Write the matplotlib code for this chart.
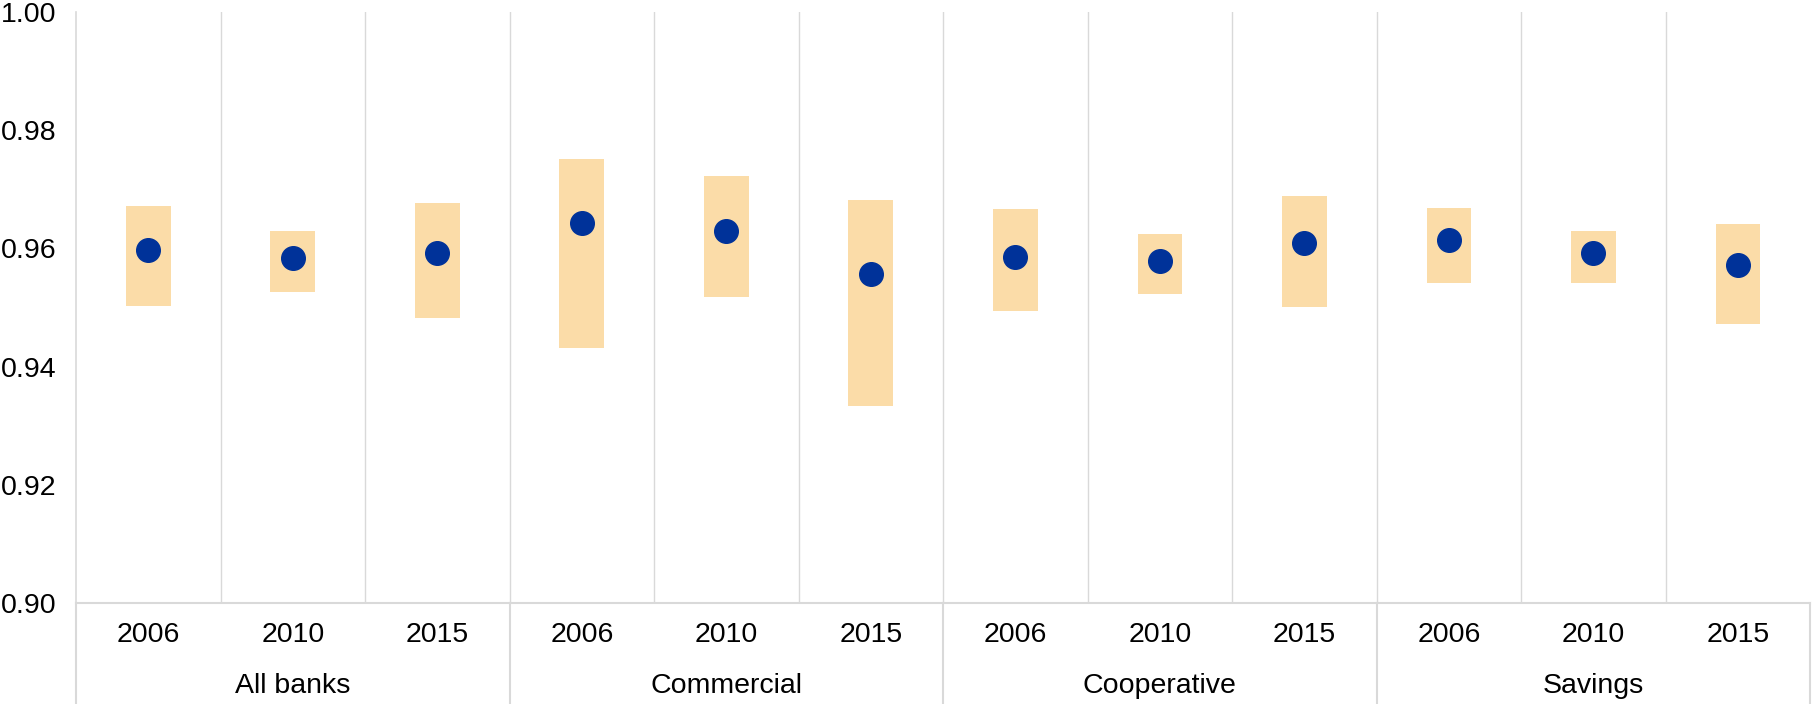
import matplotlib.pyplot as plt
import numpy as np
from matplotlib.lines import Line2D
import matplotlib.transforms as mtransforms

plt.rcParams['font.family'] = ['Liberation Sans', 'DejaVu Sans']

groups = ['All banks', 'Commercial', 'Cooperative', 'Savings']
years = ['2006', '2010', '2015']

# range (low/high) and point estimate per group, per year
high = [0.9671, 0.9630, 0.9677,
        0.9752, 0.9722, 0.9682,
        0.9667, 0.9625, 0.9688,
        0.9669, 0.9630, 0.9642]
low = [0.9503, 0.9526, 0.9483,
       0.9432, 0.9518, 0.9333,
       0.9494, 0.9522, 0.9501,
       0.9541, 0.9541, 0.9472]
mid = [0.9597, 0.9583, 0.9593,
       0.9643, 0.9629, 0.9557,
       0.9585, 0.9578, 0.9609,
       0.9614, 0.9592, 0.9572]

box_color = '#FBDCA8'
dot_color = '#003299'
grid_color = '#D9D9D9'

fig = plt.figure(figsize=(18.12, 7.04), dpi=100)
ax = fig.add_axes([0.042, 0.1435, 0.957, 0.8395])

n = len(mid)
x = np.arange(n)
ax.bar(x, np.array(high) - np.array(low), bottom=low, width=0.31,
       color=box_color, zorder=2)
ax.plot(x, mid, 'o', color=dot_color, markersize=17, zorder=3)

ax.set_xlim(-0.5, n - 0.5)
ax.set_ylim(0.90, 1.00)
ax.set_yticks(np.arange(0.90, 1.001, 0.02))
ax.set_yticklabels(['%.2f' % v for v in np.arange(0.90, 1.001, 0.02)])
ax.tick_params(axis='both', length=0, labelsize=20.5)
ax.tick_params(axis='y', pad=14)
ax.set_xticks(x)
ax.set_xticklabels(years * len(groups))
ax.tick_params(axis='x', pad=14)

for s in ['top', 'right']:
    ax.spines[s].set_visible(False)
ax.spines['left'].set_color(grid_color)
ax.spines['bottom'].set_color(grid_color)
ax.spines['left'].set_linewidth(1.2)
ax.spines['bottom'].set_linewidth(1.5)

# vertical separators between categories
for b in np.arange(0.5, n - 0.5, 1.0):
    ax.axvline(b, color=grid_color, linewidth=1, zorder=1)

# group separators extending below the axis
trans = mtransforms.blended_transform_factory(ax.transData, ax.transAxes)
for b in [-0.5, 2.5, 5.5, 8.5, 11.5]:
    ax.add_line(Line2D([b, b], [0, -0.175], transform=trans, color=grid_color,
                       linewidth=1.5, clip_on=False))

for i, g in enumerate(groups):
    ax.text(3 * i + 1, -0.14, g, transform=trans, ha='center', va='center',
            fontsize=20.5)

fig.savefig('out.png', dpi=100)
